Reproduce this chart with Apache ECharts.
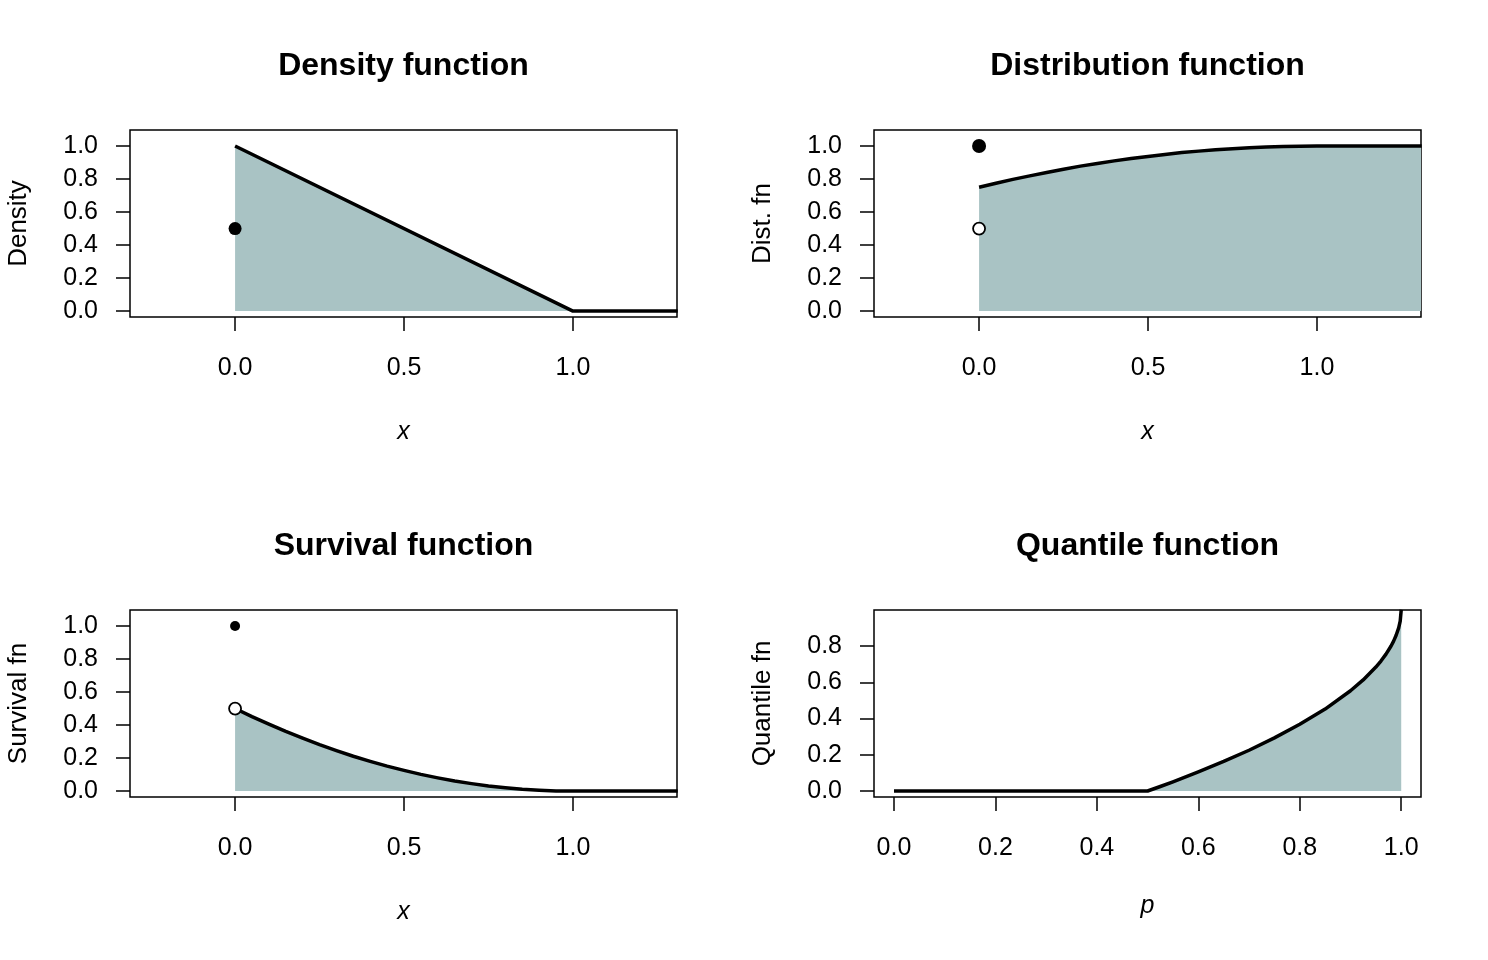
<!DOCTYPE html>
<html>
<head>
    <meta charset="utf-8">
    <title>Distribution panels</title>
    <script src="https://cdn.jsdelivr.net/npm/echarts@6/dist/echarts.min.js"></script>
</head>
<body style="margin:0; background:#fff;">
<div id="main" style="width: 1488px; height: 960px;"></div>
<script type="text/javascript">
    // values
    var densX = [0, 1, 1.31];
    var densY = [1, 0, 0];
    var densDots = [[0, 0.5]];

    var cdfX = [0, 0.05, 0.1, 0.15, 0.2, 0.25, 0.3, 0.35, 0.4, 0.45, 0.5, 0.55, 0.6, 0.65, 0.7, 0.75, 0.8, 0.85, 0.9, 0.95, 1.0, 1.31];
    var cdfY = [0.75, 0.774, 0.798, 0.819, 0.84, 0.859, 0.878, 0.894, 0.91, 0.924, 0.937, 0.949, 0.96, 0.969, 0.978, 0.984, 0.99, 0.994, 0.997, 0.999, 1.0, 1.0];
    var cdfFilled = [[0, 1.0]];
    var cdfOpen = [[0, 0.5]];

    var survX = [0, 0.05, 0.1, 0.15, 0.2, 0.25, 0.3, 0.35, 0.4, 0.45, 0.5, 0.55, 0.6, 0.65, 0.7, 0.75, 0.8, 0.85, 0.9, 0.95, 1.0, 1.31];
    var survY = [0.5, 0.451, 0.405, 0.361, 0.32, 0.281, 0.245, 0.211, 0.18, 0.151, 0.125, 0.101, 0.08, 0.061, 0.045, 0.031, 0.02, 0.011, 0.005, 0.001, 0, 0];
    var survFilled = [[0, 1.0]];
    var survOpen = [[0, 0.5]];

    var quantP = [0, 0.5, 0.525, 0.55, 0.6, 0.65, 0.7, 0.75, 0.8, 0.85, 0.9, 0.925, 0.95, 0.96, 0.97, 0.98, 0.985, 0.99, 0.995, 0.998, 1.0];
    var quantY = [0, 0, 0.025, 0.051, 0.106, 0.163, 0.225, 0.293, 0.368, 0.452, 0.553, 0.613, 0.684, 0.717, 0.755, 0.80, 0.827, 0.859, 0.90, 0.937, 1.0];

    var xTicks = [0, 0.5, 1.0];
    var pTicks = [0, 0.2, 0.4, 0.6, 0.8, 1.0];
    var yTicks = [0, 0.2, 0.4, 0.6, 0.8, 1.0];
    var qTicks = [0, 0.2, 0.4, 0.6, 0.8];

    var titles = ['Density function', 'Distribution function', 'Survival function', 'Quantile function'];
    var yNames = ['Density', 'Dist. fn', 'Survival fn', 'Quantile fn'];
    var xNames = ['x', 'x', 'x', 'p'];

    var FONT = 'Liberation Sans, Arial, Helvetica, sans-serif';
    var FILL = '#a9c3c4';

    function pairs(xs, ys) {
        var out = [];
        for (var i = 0; i < xs.length; i++) out.push([xs[i], ys[i]]);
        return out;
    }

    var panels = [
        {left: 130, top: 130, xmin: -0.311, xmax: 1.308, ymin: -0.036, ymax: 1.097, xt: xTicks, yt: yTicks, gap: 103},
        {left: 874, top: 130, xmin: -0.311, xmax: 1.308, ymin: -0.036, ymax: 1.097, xt: xTicks, yt: yTicks, gap: 103},
        {left: 130, top: 610, xmin: -0.311, xmax: 1.308, ymin: -0.036, ymax: 1.097, xt: xTicks, yt: yTicks, gap: 103},
        {left: 874, top: 610, xmin: -0.0394, xmax: 1.039, ymin: -0.033, ymax: 0.9986, xt: pTicks, yt: qTicks, gap: 97}
    ];

    var grids = [], xAxes = [], yAxes = [], titleOpts = [];
    panels.forEach(function (p, i) {
        grids.push({
            left: p.left, top: p.top, width: 547, height: 187,
            show: true, borderColor: '#000', borderWidth: 1.5, backgroundColor: 'transparent'
        });
        xAxes.push({
            type: 'value', gridIndex: i, min: p.xmin, max: p.xmax,
            axisLine: {show: false, onZero: false},
            axisTick: {show: true, length: 14, lineStyle: {color: '#000', width: 1.5}, customValues: p.xt},
            axisLabel: {
                customValues: p.xt, margin: 39, color: '#000', fontSize: 25, fontFamily: FONT,
                formatter: function (v) { return v.toFixed(1); }
            },
            splitLine: {show: false},
            name: xNames[i], nameLocation: 'middle', nameGap: p.gap,
            nameTextStyle: {color: '#000', fontSize: 25, fontStyle: 'italic', fontFamily: FONT}
        });
        yAxes.push({
            type: 'value', gridIndex: i, min: p.ymin, max: p.ymax,
            axisLine: {show: false, onZero: false},
            axisTick: {show: true, length: 14, lineStyle: {color: '#000', width: 1.5}, customValues: p.yt},
            axisLabel: {
                customValues: p.yt, margin: 32, color: '#000', fontSize: 25, fontFamily: FONT,
                formatter: function (v) { return v.toFixed(1); }
            },
            splitLine: {show: false},
            name: yNames[i], nameLocation: 'middle', nameGap: 98, nameRotate: 90,
            nameTextStyle: {color: '#000', fontSize: 26, fontFamily: FONT}
        });
        titleOpts.push({
            text: titles[i], left: p.left + 273.5, top: p.top - 80, textAlign: 'center', padding: 0,
            textStyle: {color: '#000', fontSize: 32, fontWeight: 'bold', fontFamily: FONT}
        });
    });

    function area(i, data) {
        return {
            type: 'line', xAxisIndex: i, yAxisIndex: i, data: data, symbol: 'none',
            lineStyle: {width: 0}, areaStyle: {color: FILL, opacity: 1}, silent: true, z: 1
        };
    }
    function curve(i, data) {
        return {
            type: 'line', xAxisIndex: i, yAxisIndex: i, data: data, symbol: 'none',
            lineStyle: {color: '#000', width: 3.5, join: 'round'}, silent: true, z: 3
        };
    }
    function dots(i, data, size, open) {
        return {
            type: 'scatter', xAxisIndex: i, yAxisIndex: i, data: data, symbolSize: size,
            itemStyle: open ? {color: '#fff', borderColor: '#000', borderWidth: 1.8, opacity: 1} : {color: '#000', opacity: 1},
            silent: true, z: 5, clip: false
        };
    }

    var densData = pairs(densX, densY);
    var cdfData = pairs(cdfX, cdfY);
    var survData = pairs(survX, survY);
    var quantData = pairs(quantP, quantY);

    var chart = echarts.init(document.getElementById('main'), null, {renderer: 'canvas'});
    chart.setOption({
        animation: false,
        backgroundColor: '#fff',
        title: titleOpts,
        grid: grids,
        xAxis: xAxes,
        yAxis: yAxes,
        series: [
            area(0, densData), curve(0, densData), dots(0, densDots, 13, false),
            area(1, cdfData), curve(1, cdfData), dots(1, cdfFilled, 14, false), dots(1, cdfOpen, 12, true),
            area(2, survData), curve(2, survData), dots(2, survFilled, 10, false), dots(2, survOpen, 12, true),
            area(3, quantData), curve(3, quantData)
        ]
    });
</script>
</body>
</html>
